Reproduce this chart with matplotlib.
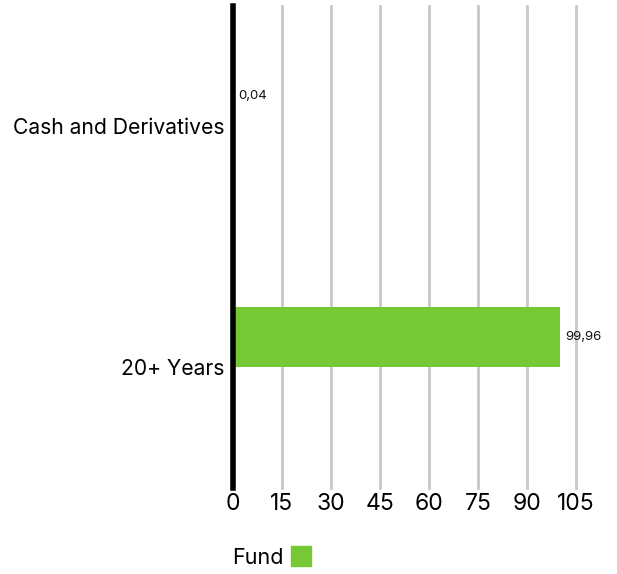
import matplotlib
matplotlib.use('Agg')
import matplotlib.pyplot as plt
import numpy as np
from matplotlib.patches import Rectangle

plt.rcParams['font.family'] = ['Inter', 'DejaVu Sans']

# data
categories = ['Cash and Derivatives', '20+ Years']
fund_values = [0.04, 99.96]
value_labels = ['0,04', '99,96']
xticks = [0, 15, 30, 45, 60, 75, 90, 105]
bar_color = '#76c934'

fig = plt.figure(figsize=(6.17, 5.74), dpi=100)
ax = fig.add_axes([0.3776, 0.150, 0.556, 0.8395])

y = np.arange(len(categories))
bar_h = 0.25
ax.barh(y - bar_h / 2, fund_values, height=bar_h, color=bar_color, zorder=3)

for yi, v, lab in zip(y, fund_values, value_labels):
    ax.text(v + 1.7, yi - bar_h / 2, lab, va='center', ha='left', fontsize=9.5, color='#111111')

ax.set_xlim(0, 105)
ax.set_ylim(1.5, -0.5)
ax.set_xticks(xticks)
ax.set_xticklabels([str(t) for t in xticks], fontsize=16.5)
ax.set_yticks(y)
ax.set_yticklabels(categories, fontsize=15.2)
ax.tick_params(axis='y', length=0, pad=6)
ax.tick_params(axis='x', length=0, pad=4)

ax.grid(axis='x', color='#c8c8c8', linewidth=2, zorder=0)
for gl in ax.get_xgridlines():
    gl.set_clip_on(False)
for s in ['top', 'right', 'bottom']:
    ax.spines[s].set_visible(False)
ax.spines['left'].set_linewidth(4)
ax.spines['left'].set_color('black')
ax.spines['left'].set_zorder(4)

# legend
fig.text(232 / 617, 1 - 558 / 574, 'Fund', fontsize=15.5, va='center', ha='left')
fig.patches.append(Rectangle((291 / 617, 1 - 566 / 574), 20 / 617, 20 / 574,
                             transform=fig.transFigure, color=bar_color, figure=fig))

fig.savefig('out.png', dpi=100)
